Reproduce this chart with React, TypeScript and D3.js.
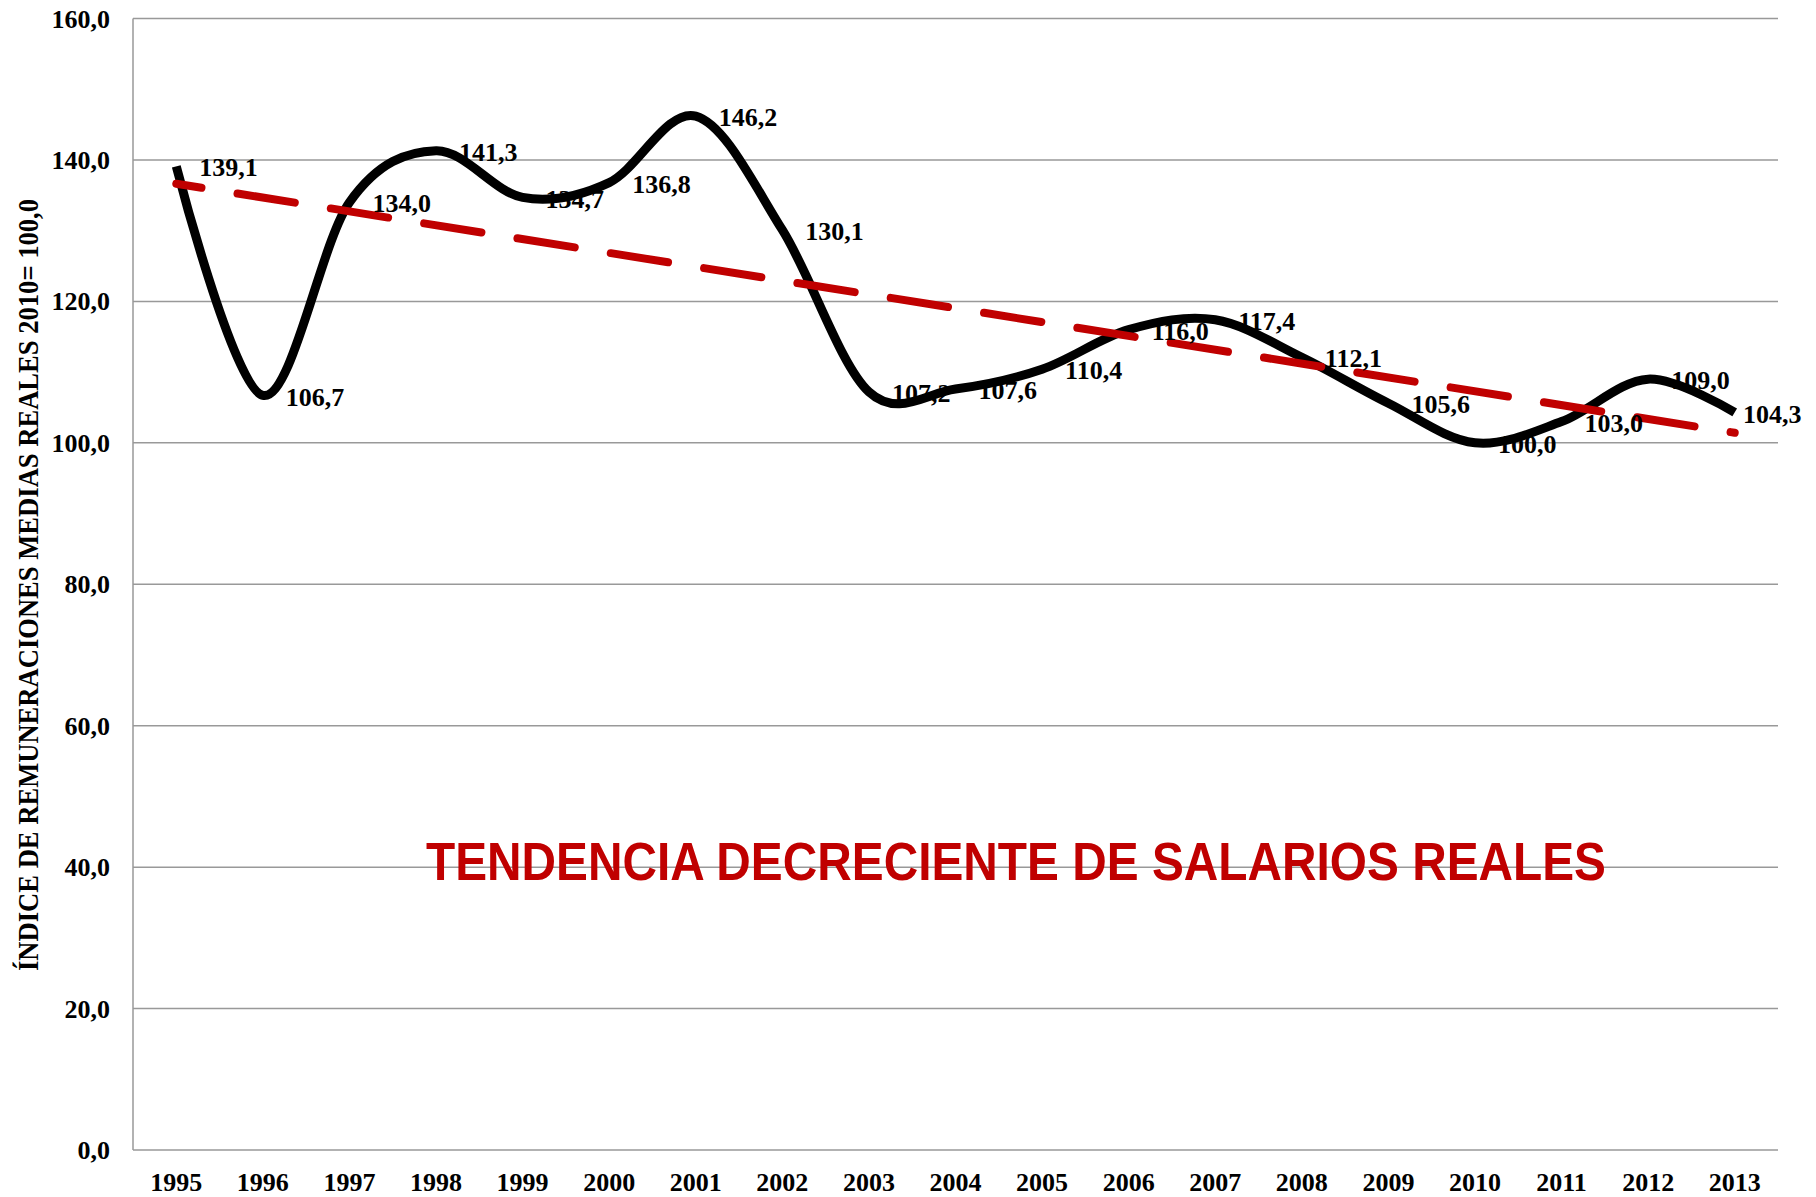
import * as d3 from "d3";

const years = [
  "1995", "1996", "1997", "1998", "1999", "2000", "2001", "2002", "2003", "2004",
  "2005", "2006", "2007", "2008", "2009", "2010", "2011", "2012", "2013"
];
const salaryIndex = [
  139.1, 106.7, 134.0, 141.3, 134.7, 136.8, 146.2, 130.1, 107.2, 107.6,
  110.4, 116.0, 117.4, 112.1, 105.6, 100.0, 103.0, 109.0, 104.3
];
const yTicks = [0, 20, 40, 60, 80, 100, 120, 140, 160];
const yTitle = "ÍNDICE DE REMUNERACIONES MEDIAS REALES 2010= 100,0";
const annotation = "TENDENCIA DECRECIENTE DE SALARIOS REALES";

const fmt = (v: number) => v.toFixed(1).replace(".", ",");

export default function App() {
  const width = 1816;
  const height = 1197;
  const plot = { left: 133, right: 1778, top: 18.5, bottom: 1150 };
  const serif = "'Liberation Serif', 'Times New Roman', serif";

  const x = d3.scalePoint<string>(years, [plot.left, plot.right]).padding(0.5);
  const y = d3.scaleLinear([0, 160], [plot.bottom, plot.top]);

  const points = years.map((year, i) => ({ year, value: salaryIndex[i], i }));

  // least-squares trend over the year index
  const meanI = d3.mean(points, (p) => p.i) ?? 0;
  const meanV = d3.mean(points, (p) => p.value) ?? 0;
  const sxy = d3.sum(points, (p) => (p.i - meanI) * (p.value - meanV));
  const sxx = d3.sum(points, (p) => (p.i - meanI) ** 2);
  const slope = sxy / sxx;
  const intercept = meanV - slope * meanI;
  const trend = [points[0], points[points.length - 1]].map((p) => ({
    year: p.year,
    value: intercept + slope * p.i
  }));

  const line = d3
    .line<{ year: string; value: number }>()
    .x((p) => x(p.year) ?? 0)
    .y((p) => y(p.value))
    .curve(d3.curveCatmullRom.alpha(0));
  const straight = d3
    .line<{ year: string; value: number }>()
    .x((p) => x(p.year) ?? 0)
    .y((p) => y(p.value));

  return (
    <svg
      width={width}
      height={height}
      viewBox={`0 0 ${width} ${height}`}
      style={{ position: "absolute", left: 0, top: 0, background: "#fff" }}
    >
      {yTicks.map((t) => (
        <g key={t}>
          <line x1={plot.left} x2={plot.right} y1={y(t)} y2={y(t)} stroke="#999" strokeWidth={1.5} />
          <text
            x={110}
            y={y(t)}
            dy="0.35em"
            textAnchor="end"
            fontFamily={serif}
            fontWeight="bold"
            fontSize={26}
          >
            {fmt(t)}
          </text>
        </g>
      ))}
      <line x1={plot.left} x2={plot.left} y1={plot.top} y2={plot.bottom} stroke="#999" strokeWidth={1.5} />

      {years.map((year) => (
        <text
          key={year}
          x={x(year)}
          y={1191}
          textAnchor="middle"
          fontFamily={serif}
          fontWeight="bold"
          fontSize={26}
        >
          {year}
        </text>
      ))}

      <text
        transform="translate(38, 585) rotate(-90)"
        textAnchor="middle"
        fontFamily={serif}
        fontWeight="bold"
        fontSize={29}
        textLength={772}
        lengthAdjust="spacingAndGlyphs"
      >
        {yTitle}
      </text>

      <text
        x={426}
        y={880}
        fontFamily="'Liberation Sans', Arial, sans-serif"
        fontWeight="bold"
        fontSize={53}
        fill="#C00000"
        textLength={1180}
        lengthAdjust="spacingAndGlyphs"
      >
        {annotation}
      </text>

      <path d={line(points) ?? undefined} fill="none" stroke="#000" strokeWidth={9} strokeLinejoin="round" />

      <path
        d={straight(trend) ?? undefined}
        fill="none"
        stroke="#C00000"
        strokeWidth={8}
        strokeLinecap="round"
        strokeDasharray="58 36.5"
        strokeDashoffset={32.5}
      />

      {points.map((p) => (
        <text
          key={p.year}
          x={Math.min((x(p.year) ?? 0) + 23, 1743)}
          y={y(p.value) + 1}
          dy="0.35em"
          fontFamily={serif}
          fontWeight="bold"
          fontSize={26}
        >
          {fmt(p.value)}
        </text>
      ))}
    </svg>
  );
}
